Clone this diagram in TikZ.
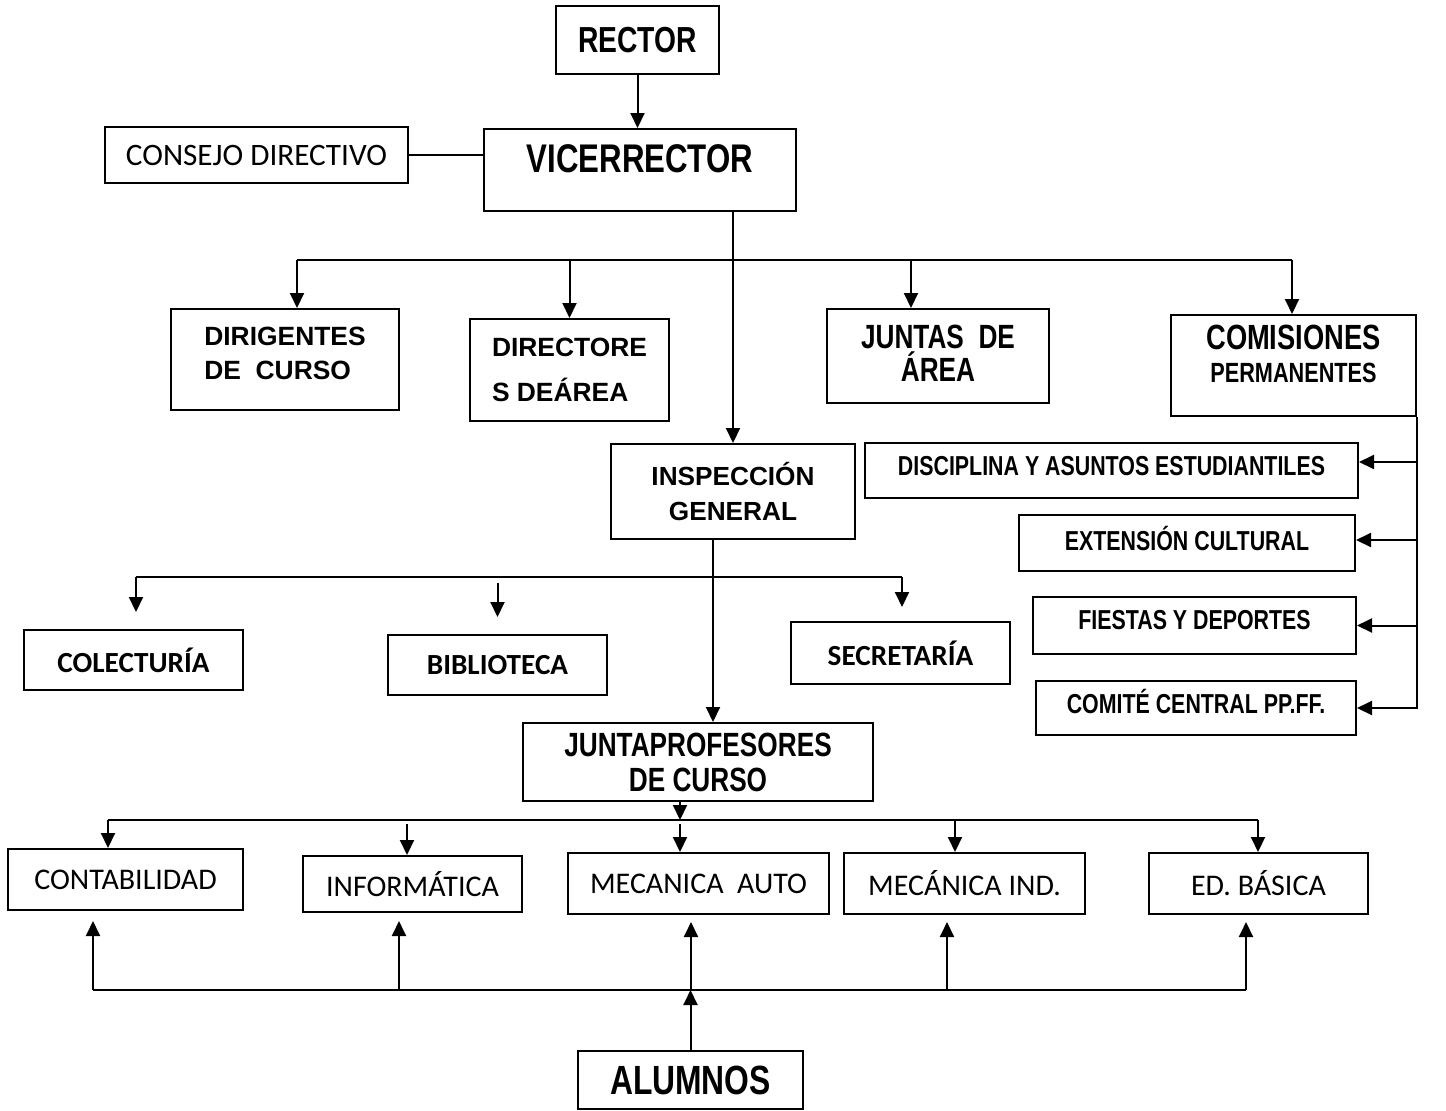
\documentclass[tikz,border=0pt]{standalone}
\usepackage{fontspec}
\setmainfont{Liberation Sans}
\newfontfamily\estrecha[FakeStretch=0.78]{Liberation Sans}
\newfontfamily\carlito{Carlito}
\usetikzlibrary{arrows.meta}
\newcommand{\sube}[1]{\rule[-#1]{0pt}{#1}}

\begin{document}
\begin{tikzpicture}[x=0.5pt, y=-0.5pt,
    caja/.style={draw, line width=1pt, anchor=north west, inner sep=0pt, align=center},
    calibri/.style={font=\carlito\fontsize{15}{17}\selectfont},
    calibrib/.style={font=\carlito\bfseries\fontsize{14.6}{17}\selectfont},
    comision/.style={font=\estrecha\bfseries\fontsize{13.7}{16}\selectfont},
    linea/.style={line width=1pt},
    flecha/.style={line width=1pt, -{Triangle[length=7.5pt,width=7pt]}},
    flechita/.style={line width=1pt, -{Triangle[length=7.5pt,width=7pt]}}]
\useasboundingbox (0,0) rectangle (1446,1110);

\node[caja, minimum width=81.5pt, minimum height=34pt,
    font=\estrecha\bfseries\fontsize{18.1}{22}\selectfont] (rector) at (555,5) {RECTOR};
\node[caja, minimum width=151.5pt, minimum height=28pt,
    font=\carlito\fontsize{15.6}{17}\selectfont] (consejo) at (104,126) {CONSEJO DIRECTIVO};
\node[caja, minimum width=156pt, minimum height=41pt,
    font=\estrecha\bfseries\fontsize{20}{24}\selectfont] (vice) at (483,128) {VICERRECTOR\sube{11pt}};

\node[caja, align=left, minimum width=114pt, minimum height=50.5pt,
    font=\bfseries\fontsize{13.2}{17}\selectfont] (dirig) at (170,308) {DIRIGENTES\\DE\ \ CURSO\sube{6.5pt}};
\node[caja, align=left, minimum width=99.5pt, minimum height=51pt,
    font=\bfseries\fontsize{13.2}{22.5}\selectfont] (direct) at (469,318) {DIRECTORE\\S DEÁREA};
\node[caja, minimum width=111pt, minimum height=47pt,
    font=\estrecha\bfseries\fontsize{16.8}{16.5}\selectfont] (juntas) at (826,308) {JUNTAS\ \ DE\\ÁREA\sube{3pt}};
\node[caja, minimum width=122.5pt, minimum height=50.5pt,
    font=\estrecha\bfseries\fontsize{17.5}{16.5}\selectfont] (comis) at (1170,314)
    {COMISIONES\\{\fontsize{13.9}{16}\selectfont PERMANENTES\sube{11.5pt}}};

\node[caja, comision, minimum width=246.5pt, minimum height=27.5pt] (discip) at (864,442) {DISCIPLINA Y ASUNTOS ESTUDIANTILES\sube{4.5pt}};
\node[caja, comision, minimum width=168pt, minimum height=28pt] (exten) at (1018,514) {EXTENSIÓN CULTURAL\sube{5pt}};
\node[caja, comision, minimum width=161.5pt, minimum height=28.5pt] (fiestas) at (1032,596) {FIESTAS Y DEPORTES\sube{5.5pt}};
\node[caja, comision, minimum width=160pt, minimum height=27pt] (comite) at (1035,680) {COMITÉ CENTRAL PP.FF.\sube{7pt}};

\node[caja, minimum width=122pt, minimum height=47.5pt,
    font=\bfseries\fontsize{13.1}{17.5}\selectfont] (insp) at (610,443) {INSPECCIÓN\\GENERAL};
\node[caja, calibrib, minimum width=109.5pt, minimum height=30pt] (colect) at (23,629) {COLECTURÍA};
\node[caja, calibrib, minimum width=109.5pt, minimum height=30pt] (biblio) at (387,634) {BIBLIOTECA};
\node[caja, calibrib, minimum width=109.5pt, minimum height=31pt] (secret) at (790,621) {SECRETARÍA};
\node[caja, minimum width=175pt, minimum height=39pt,
    font=\estrecha\bfseries\fontsize{16.8}{17.5}\selectfont] (jprof) at (522,722) {JUNTAPROFESORES\\DE CURSO};

\node[caja, calibri, minimum width=117.5pt, minimum height=30.5pt] (conta) at (7,848) {CONTABILIDAD};
\node[caja, calibri, minimum width=109.5pt, minimum height=28pt] (infor) at (302,855) {INFORMÁTICA};
\node[caja, calibri, minimum width=130.5pt, minimum height=30.5pt] (mecauto) at (567,852) {MECANICA\ \ AUTO};
\node[caja, calibri, minimum width=120.5pt, minimum height=30.5pt] (mecind) at (843,852) {MECÁNICA IND.};
\node[caja, calibri, minimum width=109.5pt, minimum height=30.5pt] (edbas) at (1148,852) {ED. BÁSICA};
\node[caja, minimum width=112.5pt, minimum height=29pt,
    font=\estrecha\bfseries\fontsize{20.4}{24}\selectfont] (alumnos) at (577,1050) {ALUMNOS};

\draw[flecha] (rector.south) -- (rector.south |- vice.north);
\draw[linea] (consejo.east) -- (consejo.east -| vice.west);
\draw[flecha] (vice.south -| insp.north) -- (insp.north);

\coordinate (v1) at (297,260);
\coordinate (v2) at (1292,260);
\coordinate (v3) at (911,260);
\draw[linea] (v1) -- (v2);
\draw[flecha] (v1) -- (v1 |- dirig.north);
\draw[flecha] (direct.north |- v1) -- (direct.north);
\draw[flecha] (v3) -- (v3 |- juntas.north);
\draw[flecha] (v2) -- (v2 |- comis.north);

\coordinate (d1) at ([yshift=4.25pt]discip.east);
\coordinate (d2) at ([yshift=1.5pt]exten.east);
\draw[flecha] (comis.south east) |- (comite.east);
\draw[flecha] (comis.south east |- d1) -- (d1);
\draw[flecha] (comis.south east |- d2) -- (d2);
\draw[flecha] (comis.south east |- fiestas.east) -- (fiestas.east);

\coordinate (i1) at (136,577);
\coordinate (i2) at (902,577);
\coordinate (i3) at (713,577);
\draw[linea] (i1) -- (i2);
\draw[flecha] (insp.south -| i3) -- (jprof.north -| i3);
\draw[flecha, shorten >=8.5pt] (i1) -- (i1 |- colect.north);
\draw[flecha, shorten <=3pt, shorten >=8.5pt] (biblio.north |- i1) -- (biblio.north);
\draw[flecha, shorten >=7pt] (i2) -- (i2 |- secret.north);

\coordinate (p1) at (108,820);
\coordinate (p2) at (1258,820);
\coordinate (p3) at (680,820);
\coordinate (p4) at (955,820);
\coordinate (p5) at (407,820);
\draw[linea] (p1) -- (p2);
\draw[flecha] (jprof.south -| p3) -- (p3);
\draw[flecha] (p1) -- (p1 |- conta.north);
\draw[flecha, shorten <=2pt] (p5) -- (p5 |- infor.north);
\draw[flecha, shorten <=2pt] (p3) -- (p3 |- mecauto.north);
\draw[flecha] (p4) -- (p4 |- mecind.north);
\draw[flecha] (p2) -- (p2 |- edbas.north);

\coordinate (a1) at (93,990);
\coordinate (a2) at (399,990);
\coordinate (a3) at (691,990);
\coordinate (a4) at (947,990);
\coordinate (a5) at (1246,990);
\draw[linea] (a1) -- (a5);
\draw[flechita, shorten >=5pt] (a1) -- (a1 |- conta.south);
\draw[flechita, shorten >=4pt] (a2) -- (a2 |- infor.south);
\draw[flechita, shorten >=3.5pt] (a3) -- (a3 |- mecauto.south);
\draw[flechita, shorten >=3.5pt] (a4) -- (a4 |- mecind.south);
\draw[flechita, shorten >=3.5pt] (a5) -- (a5 |- edbas.south);
\draw[flechita] (alumnos.north) -- (alumnos.north |- a1);
\end{tikzpicture}
\end{document}
